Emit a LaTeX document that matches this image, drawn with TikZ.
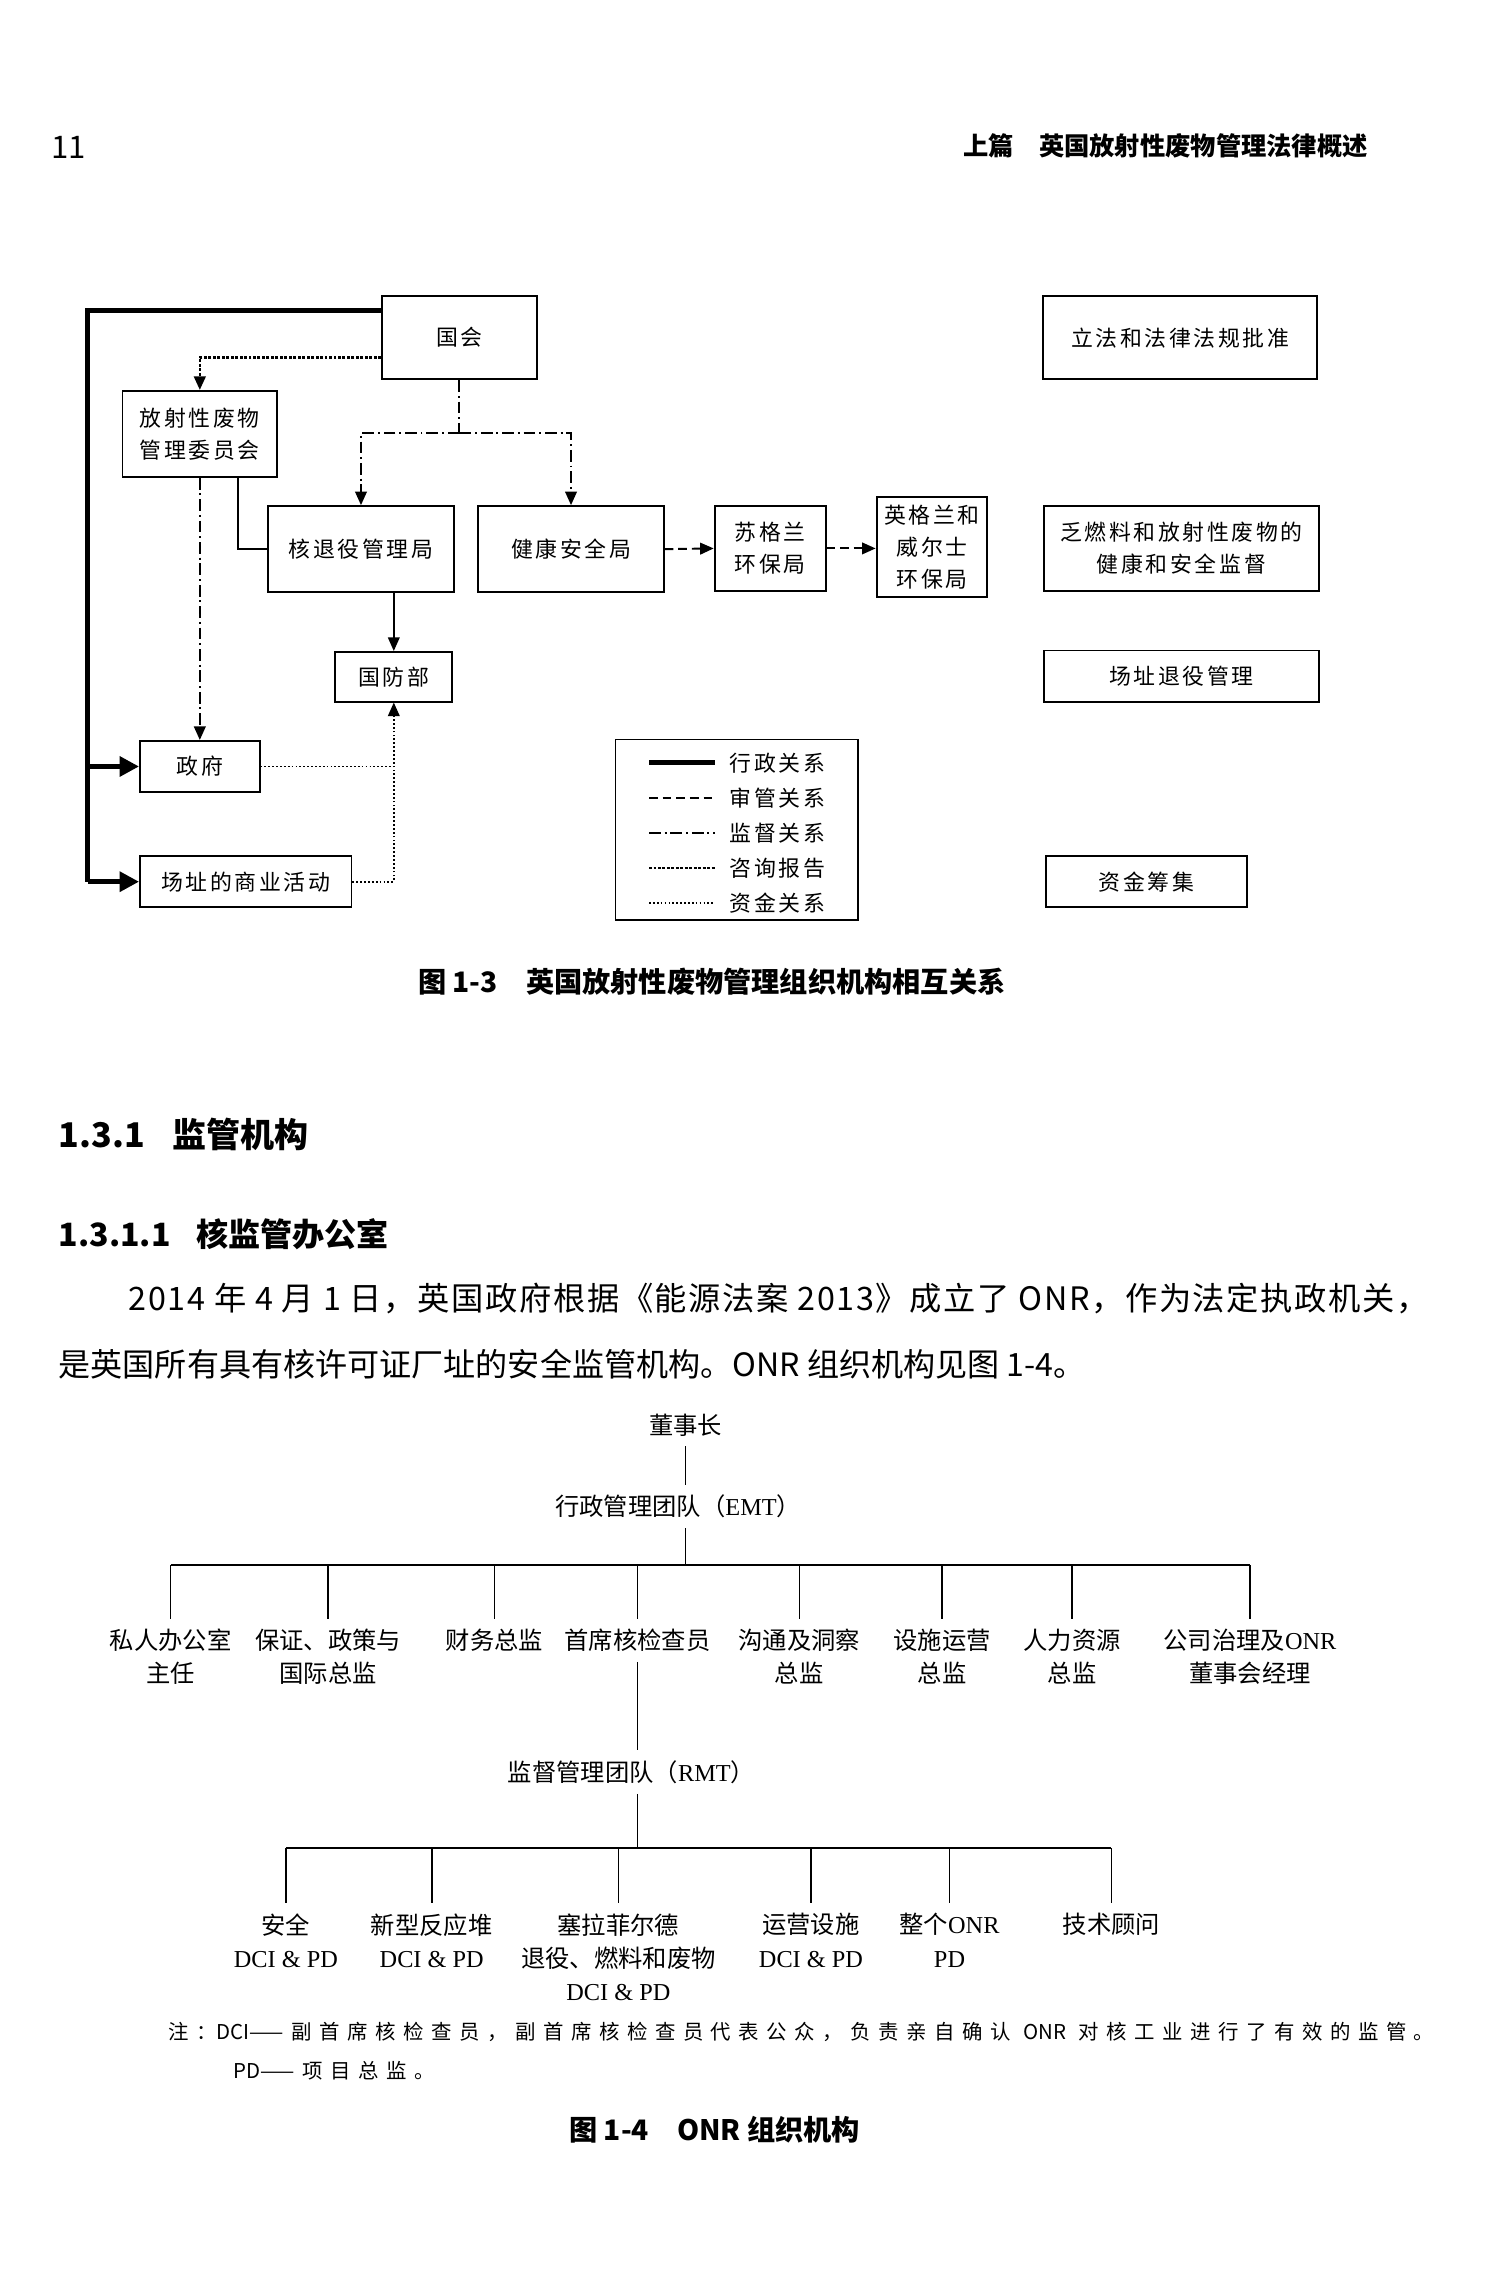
\documentclass[tikz,border=0pt]{standalone}
\usepackage{fontspec}
\setmainfont{Noto Sans CJK SC}
\newfontfamily\en{Liberation Serif}
\newfontfamily\zhwide[LetterSpace=12]{Noto Sans CJK SC}
\newfontfamily\zhnote[LetterSpace=37]{Noto Sans CJK SC}
\newfontfamily\zhbody[LetterSpace=5]{Noto Sans CJK SC}
\newfontfamily\zhplain{Noto Sans CJK SC}
\usetikzlibrary{arrows.meta,positioning,calc}

\begin{document}
\begin{tikzpicture}[x=0.75pt,y=-0.75pt,
  box/.style={draw,line width=1pt,inner sep=0pt,align=center,
    font=\zhwide\fontsize{11.25}{16.5}\selectfont},
  wh/.style 2 args={minimum width=#1*0.75pt,minimum height=#2*0.75pt},
  lab/.style={inner sep=0pt,font=\zhwide\fontsize{11.25}{16.5}\selectfont},
  xz/.style={line width=2.6pt},
  shen/.style={line width=1pt,dash pattern=on 4.5pt off 2.5pt},
  jd/.style={line width=1pt,dash pattern=on 6pt off 2pt on 1pt off 2pt},
  zx/.style={line width=1.3pt,dash pattern=on 1.5pt off 0.8pt},
  zj/.style={line width=0.9pt,dash pattern=on 0.9pt off 1.1pt},
  arr/.style={-{Triangle[length=7pt,width=6pt]}},
  bigarr/.style={-{Triangle[length=10pt,width=10pt]}},
  org/.style={inner xsep=0pt,inner ysep=5pt,align=center,
    font=\fontsize{12.5}{17}\selectfont},
  orgln/.style={line width=0.8pt}
]
\useasboundingbox (0,0) rectangle (1028,1568);

% page head
\node[inner sep=0pt,font=\fontsize{16}{16}\selectfont] (pgnum) at (47,101) {11};
\node[inner sep=0pt,anchor=east,font=\bfseries\fontsize{13}{13}\selectfont] (head) at (938,100)
  {上篇\quad 英国放射性废物管理法律概述};

% figure 1-3
\node[box,wh={106}{57}] (guohui) at (315,231.5) {国会};
\node[box,wh={106}{59}] (weiyuan) at (137,297.5) {放射性废物\\管理委员会};
\node[box,wh={127}{59}] (tuiyi) at (247.5,376.5) {核退役管理局};
\node[box,wh={127}{59}] (jiankang) at (391.5,376.5) {健康安全局};
\node[box,wh={76}{58}] (sugelan) at (528,376) {苏格兰\\环保局};
\node[box,wh={76}{68}] (yingwei) at (639,375) {英格兰和\\威尔士\\环保局};
\node[box,wh={80}{34}] (guofang) at (270,464) {国防部};
\node[box,wh={82}{35}] (zhengfu) at (137,525.5) {政府};
\node[box,wh={145}{35}] (shangye) at (168.5,604.5) {场址的商业活动};

\node[box,wh={188}{57}] (r1) at (809,231.5) {立法和法律法规批准};
\node[box,wh={188}{58}] (r2) at (810,376) {乏燃料和放射性废物的\\健康和安全监督};
\node[box,wh={188}{35}] (r3) at (810,463.5) {场址退役管理};
\node[box,wh={138}{35}] (r4) at (786,604.5) {资金筹集};

\coordinate (xzc) at (60,213);
\coordinate (zxc) at (137,245);
\coordinate (jdc) at (315,297);

\draw[xz] (guohui.west |- xzc) -- (xzc) -- (xzc |- shangye.west);
\draw[xz,bigarr] (xzc |- zhengfu.west) -- (zhengfu.west);
\draw[xz,bigarr] (xzc |- shangye.west) -- (shangye.west);
\draw[zx,arr] (guohui.west |- zxc) -| (weiyuan.north);
\draw[jd] (guohui.south) -- (jdc);
\draw[jd,arr] (jdc) -| (tuiyi.north);
\draw[jd,arr] (jdc) -| (jiankang.north);
\draw[line width=0.8pt] ([xshift=19.5pt]weiyuan.south) |- (tuiyi.west);
\draw[jd,arr] (weiyuan.south) -- (zhengfu.north);
\draw[shen,arr] (jiankang.east) -- (sugelan.west);
\draw[shen,arr] (sugelan.east) -- (yingwei.west |- sugelan.east);
\draw[line width=0.8pt,arr] (guofang.north |- tuiyi.south) -- (guofang.north);
\draw[zj] (zhengfu.east) -- (zhengfu.east -| guofang.south);
\draw[zj,arr] (shangye.east) -| (guofang.south);

% legend
\node[draw,line width=1pt,wh={166}{124}] (legend) at (505,569) {};
\draw[xz] (445,523) -- (490,523);
\draw[shen] (445,547) -- (490,547);
\draw[jd] (445,571) -- (490,571);
\draw[zx] (445,595) -- (490,595);
\draw[zj] (445,619) -- (490,619);
\node[lab,anchor=west] (l1) at (500,523) {行政关系};
\node[lab,anchor=west] (l2) at (500,547) {审管关系};
\node[lab,anchor=west] (l3) at (500,571) {监督关系};
\node[lab,anchor=west] (l4) at (500,595) {咨询报告};
\node[lab,anchor=west] (l5) at (500,619) {资金关系};

\node[inner sep=0pt,font=\bfseries\fontsize{14.5}{14.5}\selectfont] (cap13) at (488,673)
  {图 1-3\quad 英国放射性废物管理组织机构相互关系};

% text
\node[inner sep=0pt,anchor=west,font=\bfseries\fontsize{17.5}{17.5}\selectfont] (h1) at (40,778)
  {1.3.1\hspace{0.8em}监管机构};
\node[inner sep=0pt,anchor=west,font=\bfseries\fontsize{16.5}{16.5}\selectfont] (h2) at (40,846)
  {1.3.1.1\hspace{0.8em}核监管办公室};
\node[inner sep=0pt,anchor=west,font=\zhbody\fontsize{16.6}{16.6}\selectfont] (p1) at (88,890)
  {2014 年 4 月 1 日，英国政府根据《能源法案 2013》成立了 ONR，作为法定执政机关，};
\node[inner sep=0pt,anchor=west,font=\fontsize{16.5}{16.5}\selectfont] (p2) at (40,935)
  {是英国所有具有核许可证厂址的安全监管机构。ONR 组织机构见图 1-4。};

% figure 1-4
\node[org] (dsz) at (470,977) {董事长};
\node[org] (emt) at (465,1033) {行政管理团队（{\en EMT}）};
\coordinate (emtbar) at (470,1073);
\node[org,anchor=north] (c1) at (117,1110) {私人办公室\\主任};
\node[org,anchor=north] (c2) at (225,1110) {保证、政策与\\国际总监};
\node[org,anchor=north] (c3) at (339,1110) {财务总监};
\node[org,anchor=north] (c4) at (437,1110) {首席核检查员};
\node[org,anchor=north] (c5) at (548,1110) {沟通及洞察\\总监};
\node[org,anchor=north] (c6) at (646,1110) {设施运营\\总监};
\node[org,anchor=north] (c7) at (735,1110) {人力资源\\总监};
\node[org,anchor=north] (c8) at (857,1110) {公司治理及{\en ONR}\\董事会经理};

\draw[orgln] (dsz.south) -- (dsz.south |- emt.north);
\draw[orgln] (emt.south -| dsz) -- (emtbar);
\draw[orgln] (c1.north |- emtbar) -- (c8.north |- emtbar);
\draw[orgln] (c1.north |- emtbar) -- (c1.north);
\draw[orgln] (c2.north |- emtbar) -- (c2.north);
\draw[orgln] (c3.north |- emtbar) -- (c3.north);
\draw[orgln] (c4.north |- emtbar) -- (c4.north);
\draw[orgln] (c5.north |- emtbar) -- (c5.north);
\draw[orgln] (c6.north |- emtbar) -- (c6.north);
\draw[orgln] (c7.north |- emtbar) -- (c7.north);
\draw[orgln] (c8.north |- emtbar) -- (c8.north);

\node[org] (rmt) at (433,1215) {监督管理团队（{\en RMT}）};
\coordinate (rmtbar) at (437,1267);
\draw[orgln] (c4.south) -- (c4.south |- rmt.north);
\draw[orgln] (rmt.south -| c4) -- (rmtbar);

\node[org,anchor=north] (d1) at (196,1305) {安全\\{\en DCI \& PD}};
\node[org,anchor=north] (d2) at (296,1305) {新型反应堆\\{\en DCI \& PD}};
\node[org,anchor=north] (d3) at (424,1305) {塞拉菲尔德\\退役、燃料和废物\\{\en DCI \& PD}};
\node[org,anchor=north] (d4) at (556,1305) {运营设施\\{\en DCI \& PD}};
\node[org,anchor=north] (d5) at (651,1305) {整个{\en ONR}\\{\en PD}};
\node[org,anchor=north] (d6) at (762,1305) {技术顾问};

\draw[orgln] (d1.north |- rmtbar) -- (d6.north |- rmtbar);
\draw[orgln] (d1.north |- rmtbar) -- (d1.north);
\draw[orgln] (d2.north |- rmtbar) -- (d2.north);
\draw[orgln] (d3.north |- rmtbar) -- (d3.north);
\draw[orgln] (d4.north |- rmtbar) -- (d4.north);
\draw[orgln] (d5.north |- rmtbar) -- (d5.north);
\draw[orgln] (d6.north |- rmtbar) -- (d6.north);

\node[inner sep=0pt,anchor=west,font=\zhnote\fontsize{10.5}{10.5}\selectfont] (note1) at (115,1393)
  {注：{\zhplain DCI}——副首席核检查员，副首席核检查员代表公众，负责亲自确认 {\zhplain ONR} 对核工业进行了有效的监管。};
\node[inner sep=0pt,anchor=west,font=\zhnote\fontsize{10.5}{10.5}\selectfont] (note2) at (160,1420)
  {{\zhplain PD}——项目总监。};

\node[inner sep=0pt,font=\bfseries\fontsize{14.5}{14.5}\selectfont] (cap14) at (490,1460)
  {图 1-4\quad ONR 组织机构};
\end{tikzpicture}
\end{document}
